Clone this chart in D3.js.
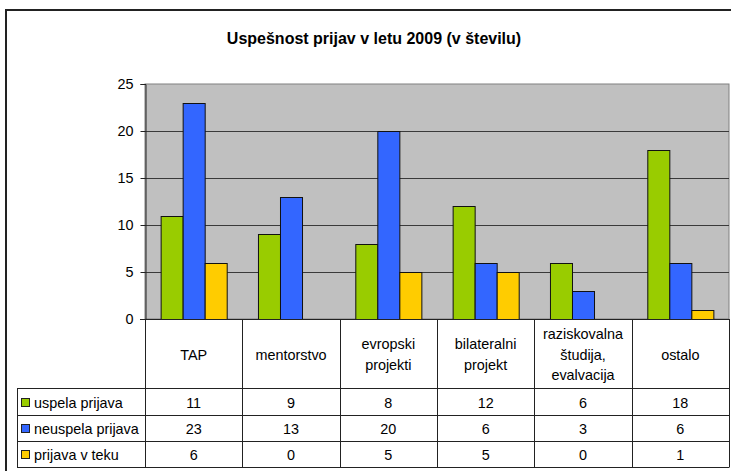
<!DOCTYPE html>
<html>
<head>
<meta charset="utf-8">
<script src="https://cdn.jsdelivr.net/npm/d3@7"></script>
<style>
  body { margin: 0; background: #fff; }
  svg { display: block; font-family: Arial, "Liberation Sans", sans-serif; }
</style>
</head>
<body>
<svg id="chart" width="731" height="471"></svg>
<script>
// data
const categories = [
  ['TAP'],
  ['mentorstvo'],
  ['evropski', 'projekti'],
  ['bilateralni', 'projekt'],
  ['raziskovalna', 'študija,', 'evalvacija'],
  ['ostalo']
];
const seriesNames = ['uspela prijava', 'neuspela prijava', 'prijava v teku'];
const seriesColors = ['#99CC00', '#3366FF', '#FFCC00'];
const uspela = [11, 9, 8, 12, 6, 18];
const neuspela = [23, 13, 20, 6, 3, 6];
const vTeku = [6, 0, 5, 5, 0, 1];
const yTicks = [0, 5, 10, 15, 20, 25];

const seriesValues = [uspela, neuspela, vTeku];
const fs = 14.4;

const svg = d3.select('#chart');

// outer frame (runs off the right and bottom edge)
svg.append('rect')
  .attr('x', 6).attr('y', 10)
  .attr('width', 760).attr('height', 500)
  .attr('fill', '#fff')
  .attr('stroke', '#222')
  .attr('stroke-width', 2);

svg.append('text')
  .attr('x', 374).attr('y', 44)
  .attr('text-anchor', 'middle')
  .attr('font-size', 16)
  .attr('font-weight', 'bold')
  .text('Uspešnost prijav v letu 2009 (v številu)');

const plotLeft = 145, plotRight = 729, plotTop = 84, plotBottom = 319;
const tableLeft = 17;
const rowLines = [388, 415, 441, 467];

const x0 = d3.scaleBand()
  .domain(d3.range(categories.length))
  .range([plotLeft, plotRight]);

const x1 = d3.scaleBand()
  .domain(d3.range(seriesNames.length))
  .range([0, x0.bandwidth()])
  .paddingInner(0)
  .paddingOuter(0.71);

const y = d3.scaleLinear()
  .domain([0, 25])
  .range([plotBottom, plotTop]);

// plot background
svg.append('rect')
  .attr('x', plotLeft).attr('y', plotTop)
  .attr('width', plotRight - plotLeft).attr('height', plotBottom - plotTop)
  .attr('fill', '#C0C0C0')
  .attr('stroke', '#808080')
  .attr('stroke-width', 1);

// gridlines
svg.append('g')
  .selectAll('line')
  .data(yTicks.filter(t => t > 0 && t < 25))
  .join('line')
  .attr('x1', plotLeft).attr('x2', plotRight)
  .attr('y1', d => Math.round(y(d)) + 0.5)
  .attr('y2', d => Math.round(y(d)) + 0.5)
  .attr('stroke', '#3a3a3a');

// y axis
const yAxis = svg.append('g')
  .attr('transform', `translate(${plotLeft + 0.5},0)`)
  .call(d3.axisLeft(y).tickValues(yTicks).tickSize(5).tickPadding(7));
yAxis.select('.domain').attr('stroke', '#222');
yAxis.selectAll('.tick line').attr('stroke', '#222');
yAxis.selectAll('.tick text')
  .attr('font-size', fs)
  .attr('font-family', 'Arial, "Liberation Sans", sans-serif')
  .attr('fill', '#000');

// bars
const groups = svg.append('g')
  .selectAll('g')
  .data(categories.map((c, i) => i))
  .join('g')
  .attr('transform', i => `translate(${x0(i)},0)`);

groups.selectAll('rect')
  .data(i => seriesValues.map((vals, s) => ({ s: s, v: vals[i] })).filter(d => d.v > 0))
  .join('rect')
  .attr('x', d => x1(d.s) + 0.5)
  .attr('y', d => Math.round(y(d.v)) + 0.5)
  .attr('width', x1.bandwidth())
  .attr('height', d => Math.round(plotBottom - y(d.v)))
  .attr('fill', d => seriesColors[d.s])
  .attr('stroke', '#111')
  .attr('stroke-width', 1);

// data table
const table = svg.append('g')
  .attr('stroke', '#222')
  .attr('stroke-width', 1);

// axis line at zero
table.append('line')
  .attr('x1', plotLeft - 5).attr('x2', plotRight)
  .attr('y1', plotBottom + 0.5).attr('y2', plotBottom + 0.5);

table.selectAll('line.row')
  .data(rowLines)
  .join('line')
  .attr('class', 'row')
  .attr('x1', tableLeft).attr('x2', plotRight)
  .attr('y1', d => d + 0.5).attr('y2', d => d + 0.5);

table.selectAll('line.col')
  .data(d3.range(categories.length + 1))
  .join('line')
  .attr('class', 'col')
  .attr('x1', i => i < categories.length ? Math.round(x0(i)) + 0.5 : plotRight + 0.5)
  .attr('x2', i => i < categories.length ? Math.round(x0(i)) + 0.5 : plotRight + 0.5)
  .attr('y1', plotBottom)
  .attr('y2', rowLines[3] + 0.5);

table.append('line')
  .attr('x1', tableLeft + 0.5).attr('x2', tableLeft + 0.5)
  .attr('y1', rowLines[0]).attr('y2', rowLines[3] + 0.5);

// category headers
const headY = (plotBottom + rowLines[0]) / 2 + 1;
const heads = svg.append('g')
  .attr('font-size', fs)
  .attr('text-anchor', 'middle');

heads.selectAll('text')
  .data(categories)
  .join('text')
  .attr('x', (c, i) => x0(i) + x0.bandwidth() / 2)
  .attr('y', headY)
  .each(function(lines) {
    const t = d3.select(this);
    const lh = 20.5;
    lines.forEach((l, k) => {
      t.append('tspan')
        .attr('x', t.attr('x'))
        .attr('y', headY + (k - (lines.length - 1) / 2) * lh)
        .attr('dy', '0.35em')
        .text(l);
    });
  });

// legend column + values
const rowMid = s => (rowLines[s] + rowLines[s + 1]) / 2 + 1;

const rows = svg.append('g')
  .attr('font-size', fs)
  .selectAll('g')
  .data(seriesNames)
  .join('g');

rows.append('rect')
  .attr('x', 21.5)
  .attr('y', (d, s) => Math.round(rowMid(s)) - 4.5)
  .attr('width', 8).attr('height', 8)
  .attr('fill', (d, s) => seriesColors[s])
  .attr('stroke', '#222');

rows.append('text')
  .attr('x', 34)
  .attr('y', (d, s) => rowMid(s))
  .attr('dy', '0.35em')
  .text(d => d);

rows.each(function(name, s) {
  d3.select(this).selectAll('text.val')
    .data(seriesValues[s])
    .join('text')
    .attr('class', 'val')
    .attr('text-anchor', 'middle')
    .attr('x', (v, i) => x0(i) + x0.bandwidth() / 2)
    .attr('y', rowMid(s))
    .attr('dy', '0.35em')
    .text(v => v);
});
</script>
</body>
</html>
